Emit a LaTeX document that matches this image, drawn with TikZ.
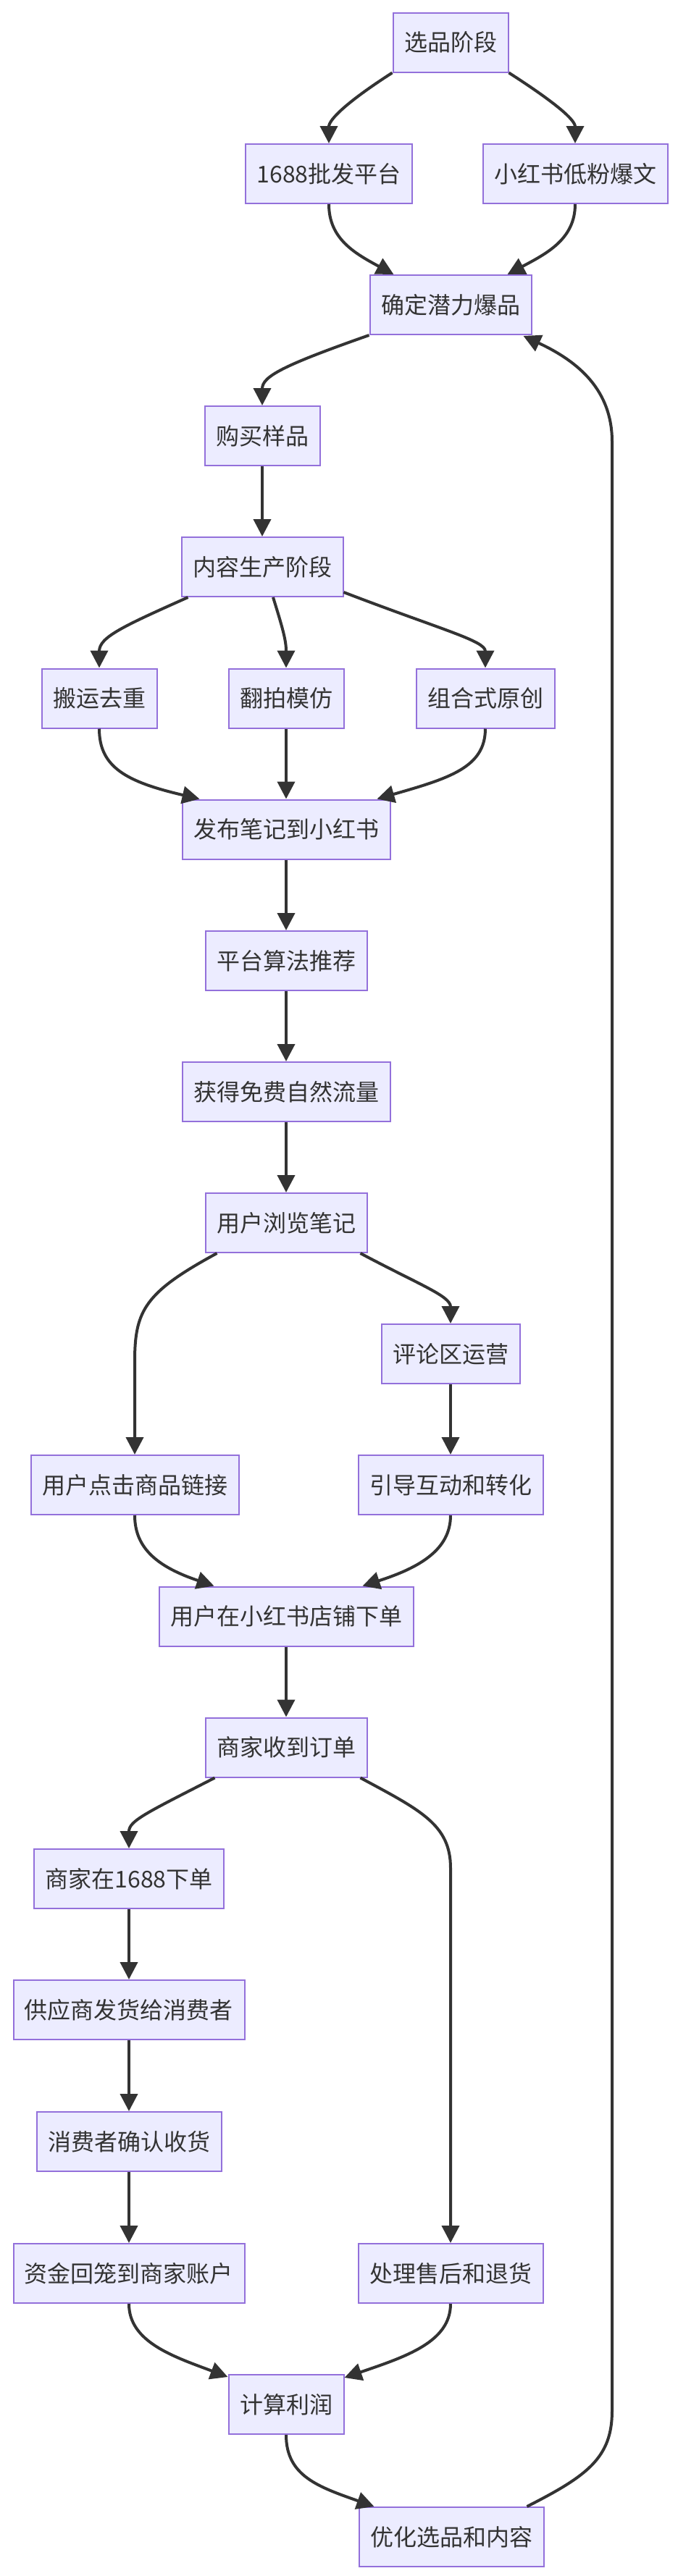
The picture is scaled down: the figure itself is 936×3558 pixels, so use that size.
\documentclass[tikz,border=0pt]{standalone}
\usepackage{fontspec}
\newfontfamily\cjk{Noto Sans CJK SC}
\usetikzlibrary{arrows.meta}
\definecolor{mfill}{HTML}{ECECFF}
\definecolor{mstroke}{HTML}{9370DB}
\definecolor{mline}{HTML}{333333}
\begin{document}
\begin{tikzpicture}[x=1pt,y=-1pt,
  box/.style={draw=mstroke, fill=mfill, line width=2pt, inner xsep=15.5pt, inner ysep=0pt,
    minimum height=82pt, text=mline, font=\cjk\fontsize{32}{38}\selectfont},
  link/.style={draw=mline, line width=4pt, -{Triangle[length=24pt,width=24pt]}}]
\fill[white] (0,0) rectangle (936,3558);
\useasboundingbox (0,0) rectangle (936,3558);
% nodes
\node[box] (n1) at (622,58.5) {选品阶段};
\node[box] (n2) at (454,240) {1688批发平台};
\node[box] (n3) at (794,240) {小红书低粉爆文};
\node[box] (n4) at (622,421) {确定潜力爆品};
\node[box] (n5) at (362,602) {购买样品};
\node[box] (n6) at (362,783) {内容生产阶段};
\node[box] (n7) at (137,964.5) {搬运去重};
\node[box] (n8) at (395,964.5) {翻拍模仿};
\node[box] (n9) at (670,964.5) {组合式原创};
\node[box] (n10) at (395,1145.5) {发布笔记到小红书};
\node[box] (n11) at (395,1327) {平台算法推荐};
\node[box] (n12) at (395,1508) {获得免费自然流量};
\node[box] (n13) at (395,1689) {用户浏览笔记};
\node[box] (n14) at (622,1870) {评论区运营};
\node[box] (n15) at (186,2051) {用户点击商品链接};
\node[box] (n16) at (622,2051) {引导互动和转化};
\node[box] (n17) at (395,2232.5) {用户在小红书店铺下单};
\node[box] (n18) at (395,2413.5) {商家收到订单};
\node[box] (n19) at (178,2595) {商家在1688下单};
\node[box] (n20) at (178,2776) {供应商发货给消费者};
\node[box] (n21) at (178,2958) {消费者确认收货};
\node[box] (n22) at (178,3140) {资金回笼到商家账户};
\node[box] (n23) at (622,3140) {处理售后和退货};
\node[box] (n24) at (395,3321) {计算利润};
\node[box] (n25) at (623,3504) {优化选品和内容};
% edges
\draw[link] (n1.south west) .. controls (480,140) and (454,165) .. (n2.north);
\draw[link] (n1.south east) .. controls (764,140) and (794,165) .. (n3.north);
\draw[link] (n2.south) .. controls (454,330) and (490,350) .. ([xshift=34pt]n4.north west);
\draw[link] (n3.south) .. controls (794,330) and (755,350) .. ([xshift=-34pt]n4.north east);
\draw[link] (n4.south west) .. controls (390,505) and (362,520) .. (n5.north);
\draw[link] (n5) -- (n6);
\draw[link] ([xshift=10pt]n6.south west) .. controls (170,865) and (137,880) .. (n7.north);
\draw[link] ([xshift=15pt]n6.south) .. controls (391,870) and (395,885) .. (n8.north);
\draw[link] ([yshift=7pt]n6.south east) .. controls (610,870) and (670,885) .. (n9.north);
\draw[link] (n7.south) .. controls (137,1060) and (175,1080) .. ([xshift=25pt]n10.north west);
\draw[link] (n8) -- (n10);
\draw[link] (n9.south) .. controls (670,1060) and (620,1075) .. ([xshift=-19pt]n10.north east);
\draw[link] (n10) -- (n11);
\draw[link] (n11) -- (n12);
\draw[link] (n12) -- (n13);
\draw[link] ([xshift=17pt]n13.south west) .. controls (200,1785) and (186,1810) .. (186,1880) -- (n15.north);
\draw[link] ([xshift=-10pt]n13.south east) .. controls (580,1775) and (622,1790) .. (n14.north);
\draw[link] (n14) -- (n16);
\draw[link] (n15.south) .. controls (186,2140) and (220,2165) .. ([xshift=77pt]n17.north west);
\draw[link] (n16.south) .. controls (622,2140) and (580,2165) .. ([xshift=-71pt]n17.north east);
\draw[link] (n17) -- (n18);
\draw[link] ([xshift=14pt]n18.south west) .. controls (200,2505) and (178,2515) .. (n19.north);
\draw[link] ([xshift=-10pt]n18.south east) .. controls (580,2500) and (622,2520) .. (622,2580) -- (n23.north);
\draw[link] (n19) -- (n20);
\draw[link] (n20) -- (n21);
\draw[link] (n21) -- (n22);
\draw[link] (n22.south) .. controls (178,3235) and (240,3255) .. ([yshift=-4pt]n24.north west);
\draw[link] (n23.south) .. controls (622,3235) and (560,3255) .. ([yshift=-5pt]n24.north east);
\draw[link] (n24.south) .. controls (395,3420) and (440,3435) .. ([xshift=22pt]n25.north west);
\draw[link] ([xshift=-24pt]n25.north east) .. controls (810,3420) and (845,3395) .. (845,3330)
  -- (845,610) .. controls (845,540) and (800,500) .. ([xshift=-12pt,yshift=-1pt]n4.south east);
\end{tikzpicture}
\end{document}
